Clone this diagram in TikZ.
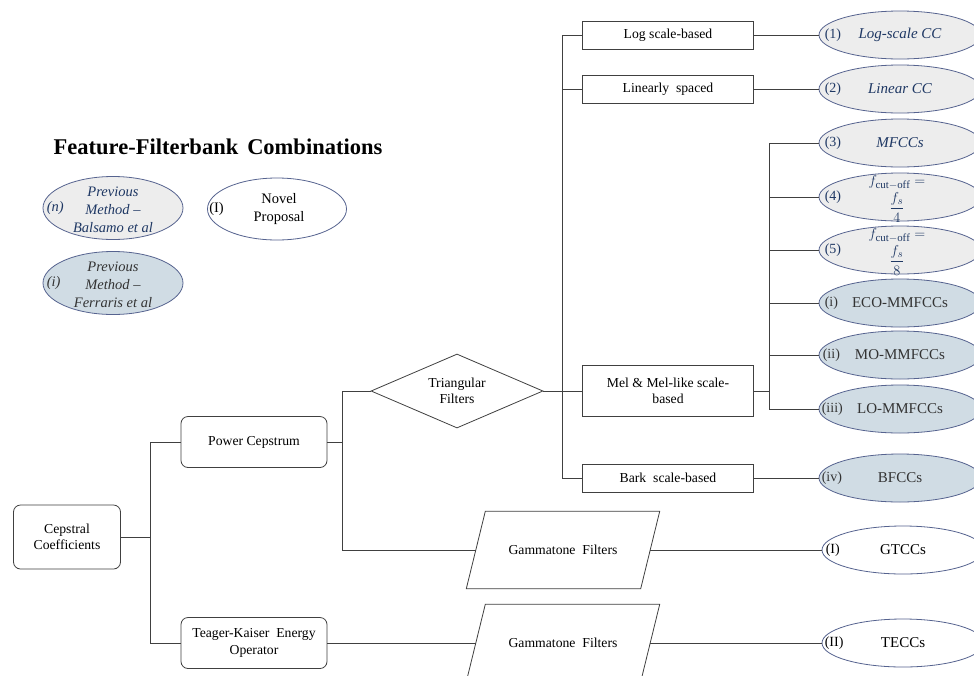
\documentclass[tikz,border=0pt]{standalone}
\usepackage{amsmath}
\usepackage{fontspec}
\setmainfont{Liberation Serif}
\usetikzlibrary{shapes.geometric}
\definecolor{ln}{RGB}{64,64,64}
\definecolor{eb}{RGB}{86,99,143}
\definecolor{gf}{RGB}{237,237,237}
\definecolor{bf}{RGB}{208,220,228}
\definecolor{bt}{RGB}{31,56,100}
\definecolor{dt}{RGB}{51,51,51}
\begin{document}
\begin{tikzpicture}[x=1pt,y=-1pt,
  every node/.style={font=\fontsize{13.7}{16.5}\selectfont},
  box/.style={draw=ln, line width=0.8pt, rectangle, minimum width=171pt, minimum height=28pt, inner sep=1pt, align=center},
  rbox/.style={draw=ln, line width=0.8pt, rectangle, rounded corners=7pt, align=center, minimum width=146pt, minimum height=51pt, inner sep=1pt},
  pbox/.style={rectangle, minimum width=174pt, minimum height=77pt, inner sep=0pt},
  ell/.style={draw=eb, line width=0.8pt, ellipse, minimum width=162pt, minimum height=48pt, inner sep=0pt, font=\fontsize{15}{17}\selectfont},
  gell/.style={ell, fill=gf, text=bt, font=\fontsize{15}{17}\selectfont\itshape},
  bell/.style={ell, fill=bf, text=dt},
  well/.style={ell, fill=white, text=black},
  lab/.style={anchor=west, inner sep=0pt, font=\fontsize{14}{16}\selectfont},
  txt/.style={inner sep=0pt, align=center},
  con/.style={draw=ln, line width=0.8pt},
]
\clip (0,0) rectangle (974,675);
\fill[white] (0,0) rectangle (974,675);

% ---------- legend ----------
\node[font=\fontsize{22.5}{26}\selectfont\bfseries] (title) at (218,147) {Feature-Filterbank\hspace{9pt}Combinations};
\node[ell, fill=gf, minimum width=140pt, minimum height=63pt] (leg1) at (113,208) {};
\node[txt, text=bt, font=\fontsize{14.5}{18}\selectfont\itshape] (leg1t) at (113,210) {Previous\\Method --\\Balsamo et al};
\node[lab, text=bt, font=\fontsize{14.5}{16}\selectfont\itshape] (leg1l) at ([xshift=4pt]leg1.west) {(n)};
\node[ell, fill=bf, minimum width=140pt, minimum height=63pt] (leg2) at (113,283) {};
\node[txt, text=dt, font=\fontsize{14.5}{18}\selectfont\itshape] (leg2t) at (113,285) {Previous\\Method --\\Ferraris et al};
\node[lab, text=dt, font=\fontsize{14.5}{16}\selectfont\itshape] (leg2l) at ([xshift=4pt]leg2.west) {(i)};
\node[ell, fill=white, minimum width=139pt, minimum height=62pt] (leg3) at (277,209) {};
\node[txt, font=\fontsize{14.5}{18}\selectfont] (leg3t) at (279,209) {Novel\\Proposal};
\node[lab, font=\fontsize{14.5}{16}\selectfont] (leg3l) at ([xshift=2pt]leg3.west) {(I)};

% ---------- left part ----------
\node[rbox, minimum width=107pt, minimum height=64pt] (cc) at (67,537) {Cepstral\\Coefficients};
\node[rbox] (pc) at (254,442) {Power Cepstrum};
\node[rbox] (tk) at (254,643) {Teager-Kaiser\ \ Energy\\Operator};
\node[draw=ln, line width=0.8pt, diamond, aspect=2.3, minimum width=172pt, minimum height=74pt, inner sep=0pt, align=center] (tri) at (457,391) {Triangular\\Filters};

\node[pbox] (g1) at (563,550) {Gammatone\ \ Filters};
\draw[con] ([xshift=9.5pt]g1.north west) -- ([xshift=9.5pt]g1.north east) -- ([xshift=-9.5pt]g1.south east) -- ([xshift=-9.5pt]g1.south west) -- cycle;
\node[pbox] (g2) at (563,643) {Gammatone\ \ Filters};
\draw[con] ([xshift=9.5pt]g2.north west) -- ([xshift=9.5pt]g2.north east) -- ([xshift=-9.5pt]g2.south east) -- ([xshift=-9.5pt]g2.south west) -- cycle;

% ---------- scale boxes ----------
\node[box] (log) at (668,35) {Log scale-based};
\node[box] (lin) at (668,89) {Linearly\ \ spaced};
\node[box, minimum height=51pt] (mel) at (668,391) {Mel \& Mel-like scale-\\based};
\node[box] (bark) at (668,478) {Bark\ \ scale-based};

% ---------- result ellipses ----------
\node[gell] (e1) at (900,35) {Log-scale CC};
\node[gell] (e2) at (900,89) {Linear CC};
\node[gell] (e3) at (900,143) {MFCCs};
\node[gell] (e4) at (900,197) {};
\node[gell] (e5) at (900,250) {};
\node[bell] (e6) at (900,303) {ECO-MMFCCs};
\node[bell] (e7) at (900,355) {MO-MMFCCs};
\node[bell] (e8) at (900,409) {LO-MMFCCs};
\node[bell] (e9) at (900,478) {BFCCs};
\node[well] (e10) at (903,550) {GTCCs};
\node[well] (e11) at (903,643) {TECCs};

\node[txt, text=bt, font=\fontsize{15.5}{15}\selectfont] (f4) at (897,199) {$f_{\mathrm{cut-off}}=$\\[2pt]$\dfrac{f_s}{4}$};
\node[txt, text=bt, font=\fontsize{15.5}{15}\selectfont] (f5) at (897,252) {$f_{\mathrm{cut-off}}=$\\[2pt]$\dfrac{f_s}{8}$};

\node[lab, text=bt] (l1) at ([xshift=6pt]e1.west) {(1)};
\node[lab, text=bt] (l2) at ([xshift=6pt]e2.west) {(2)};
\node[lab, text=bt] (l3) at ([xshift=6pt]e3.west) {(3)};
\node[lab, text=bt] (l4) at ([xshift=6pt]e4.west) {(4)};
\node[lab, text=bt] (l5) at ([xshift=6pt]e5.west) {(5)};
\node[lab, text=dt] (l6) at ([xshift=6pt]e6.west) {(i)};
\node[lab, text=dt] (l7) at ([xshift=4pt]e7.west) {(ii)};
\node[lab, text=dt] (l8) at ([xshift=3pt]e8.west) {(iii)};
\node[lab, text=dt] (l9) at ([xshift=3pt]e9.west) {(iv)};
\node[lab] (l10) at ([xshift=4pt]e10.west) {(I)};
\node[lab] (l11) at ([xshift=3pt]e11.west) {(II)};

% ---------- connectors ----------
\draw[con] (cc.east) -- ++(30,0) coordinate (j1);
\draw[con] (pc.west) -- ++(-30,0) |- (tk.west);
\draw[con] (pc.east) -- ++(16,0) coordinate (j2);
\draw[con] (tri.west) -- ++(-28,0) |- (g1.west);
\draw[con] (tri.east) -- (mel.west);
\draw[con] (log.west) -- ++(-20,0) |- (bark.west);
\draw[con] (lin.west) -- ++(-20,0);
\draw[con] (log.east) -- (e1.west);
\draw[con] (lin.east) -- (e2.west);
\draw[con] (bark.east) -- (e9.west);
\draw[con] (mel.east) -- ++(16,0) coordinate (j3);
\draw[con] (e3.west) -- ++(-49,0) |- (e8.west);
\draw[con] (e4.west) -- ++(-49,0);
\draw[con] (e5.west) -- ++(-49,0);
\draw[con] (e6.west) -- ++(-49,0);
\draw[con] (e7.west) -- ++(-49,0);
\draw[con] (g1.east) -- (e10.west);
\draw[con] (tk.east) -- (g2.west);
\draw[con] (g2.east) -- (e11.west);
\end{tikzpicture}
\end{document}
